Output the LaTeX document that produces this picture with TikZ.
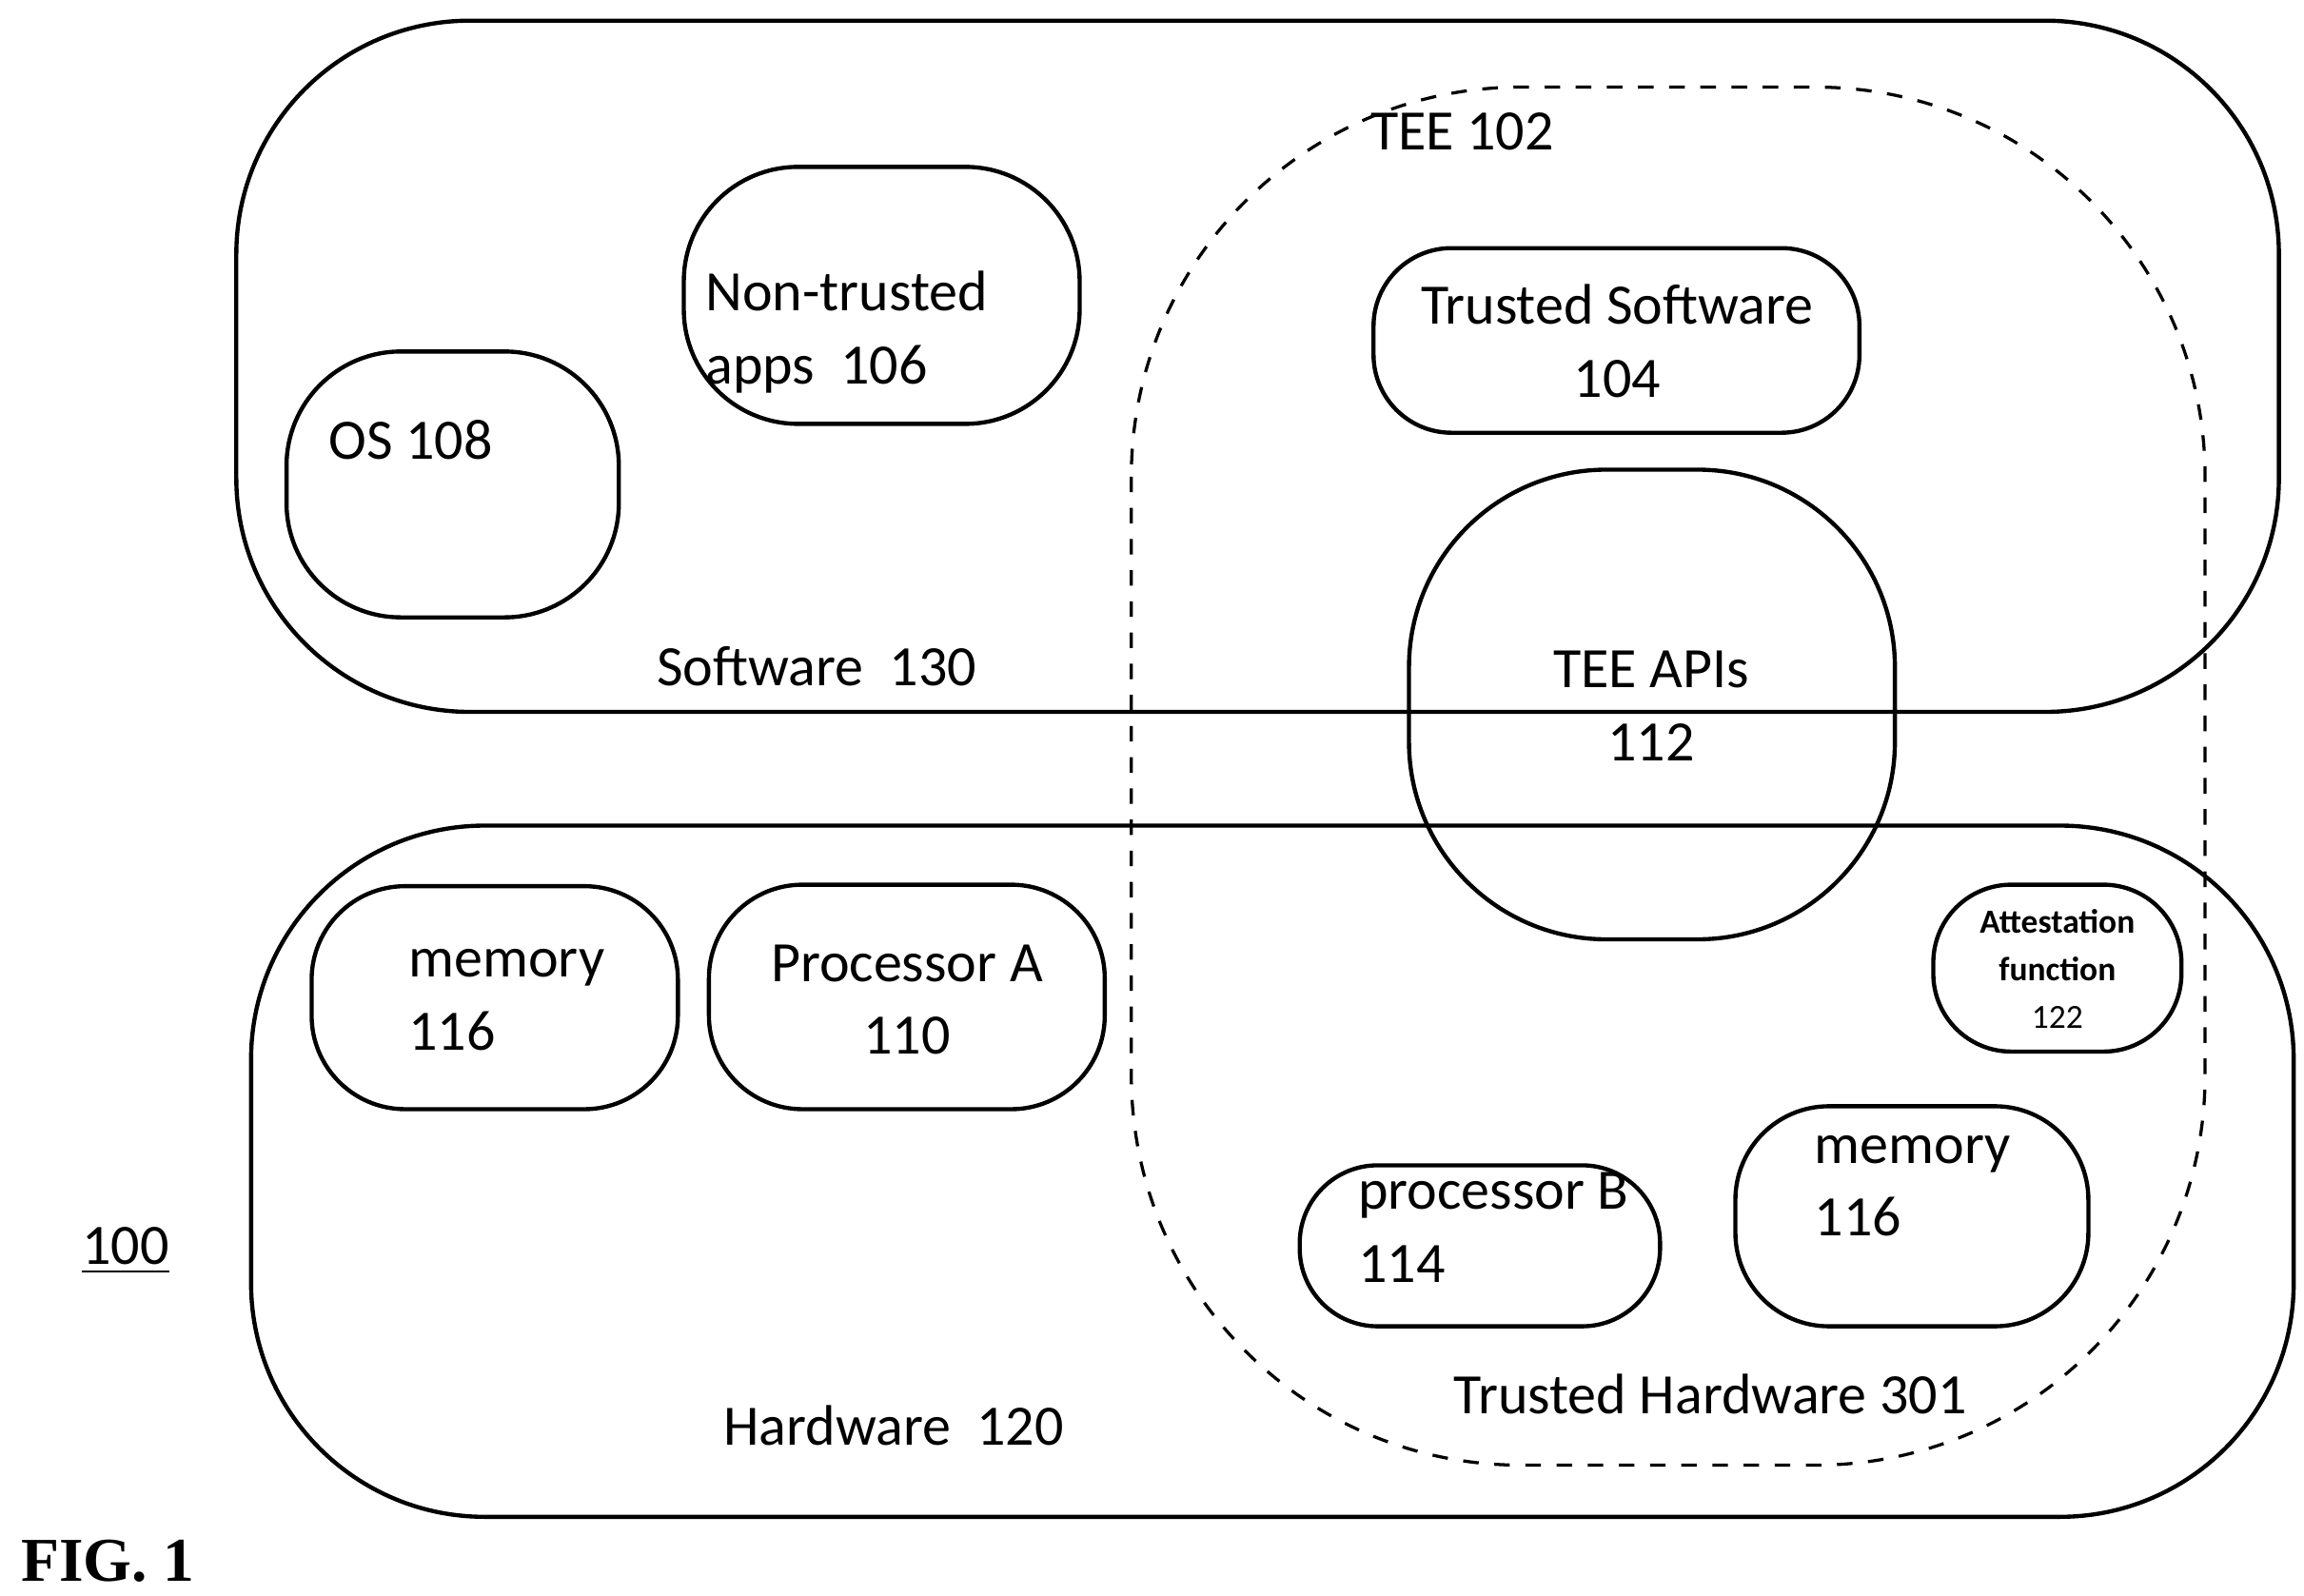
\documentclass[tikz,border=0pt]{standalone}
\usepackage{fontspec}
\setmainfont{Carlito}
\usetikzlibrary{positioning}

\tikzset{
  box/.style={draw, rounded corners=22pt, line width=0.8pt},
  lbl/.style={font=\fontsize{11}{14}\selectfont, align=left, inner sep=0pt},
}

\begin{document}
\begin{tikzpicture}[x=0.01cm,y=-0.01cm]
    \useasboundingbox (0,0) rectangle (1560,1080);
    {
      % outer regions
      \draw[box, rounded corners=45pt] (160,14) rectangle (1543,482);
      \draw[box, rounded corners=45pt] (170,559) rectangle (1553,1027);
      \draw[box, dashed, rounded corners=75pt, line width=0.6pt] (766,59) rectangle (1493,992);

      % software side
      \node(sw) at (553,451) [lbl] {Software\ \ 130};
      \draw[box] (463,113) rectangle (731,287);
      \node(apps) at (477,225) [lbl, anchor=west] {Non-trusted\\apps\ \ 106};
      \draw[box] (194,238) rectangle (419,418);
      \node(os) at (222,298) [lbl, anchor=west] {OS 108};

      % TEE
      \node(tee) at (990,89) [lbl] {TEE 102};
      \draw[box, rounded corners=15pt] (930,168) rectangle (1259,293);
      \node(ts) at (1095,231) [lbl, align=center] {Trusted Software\\104};
      \draw[box, rounded corners=38pt] (954,318) rectangle (1283,636);
      \node(api) at (1118,478) [lbl, align=center] {TEE APIs\\112};

      % hardware side
      \node(hw) at (605,965) [lbl] {Hardware\ \ 120};
      \draw[box, rounded corners=18pt] (211,600) rectangle (459,751);
      \node(mem1) at (276,677) [lbl, anchor=west] {memory\\116};
      \draw[box, rounded corners=18pt] (480,599) rectangle (748,751);
      \node(pa) at (614,677) [lbl, align=center] {Processor A\\110};
      \draw[box, rounded corners=15pt] (1309,599) rectangle (1477,712);
      \node(att) at (1393,656) [align=center, inner sep=0pt, font=\fontsize{6.5}{9.2}\selectfont]
            {\textbf{Attestation}\\\textbf{function}\\122};
      \draw[box, rounded corners=15pt] (880,789) rectangle (1124,898);
      \node(pb) at (919,831) [lbl, anchor=west] {processor B\\114};
      \draw[box, rounded corners=18pt] (1175,749) rectangle (1414,898);
      \node(mem2) at (1228,803) [lbl, anchor=west] {memory\\116};
      \node(th) at (1158,944) [lbl] {Trusted Hardware 301};

      % figure labels
      \node(ref) at (85,847) [lbl] {\underline{100}};
      \node(fig) at (73,1057) [inner sep=0pt, font=\fontsize{12}{14}\selectfont\bfseries\fontspec{Liberation Serif}] {FIG. 1};
    }
\end{tikzpicture}
\end{document}
